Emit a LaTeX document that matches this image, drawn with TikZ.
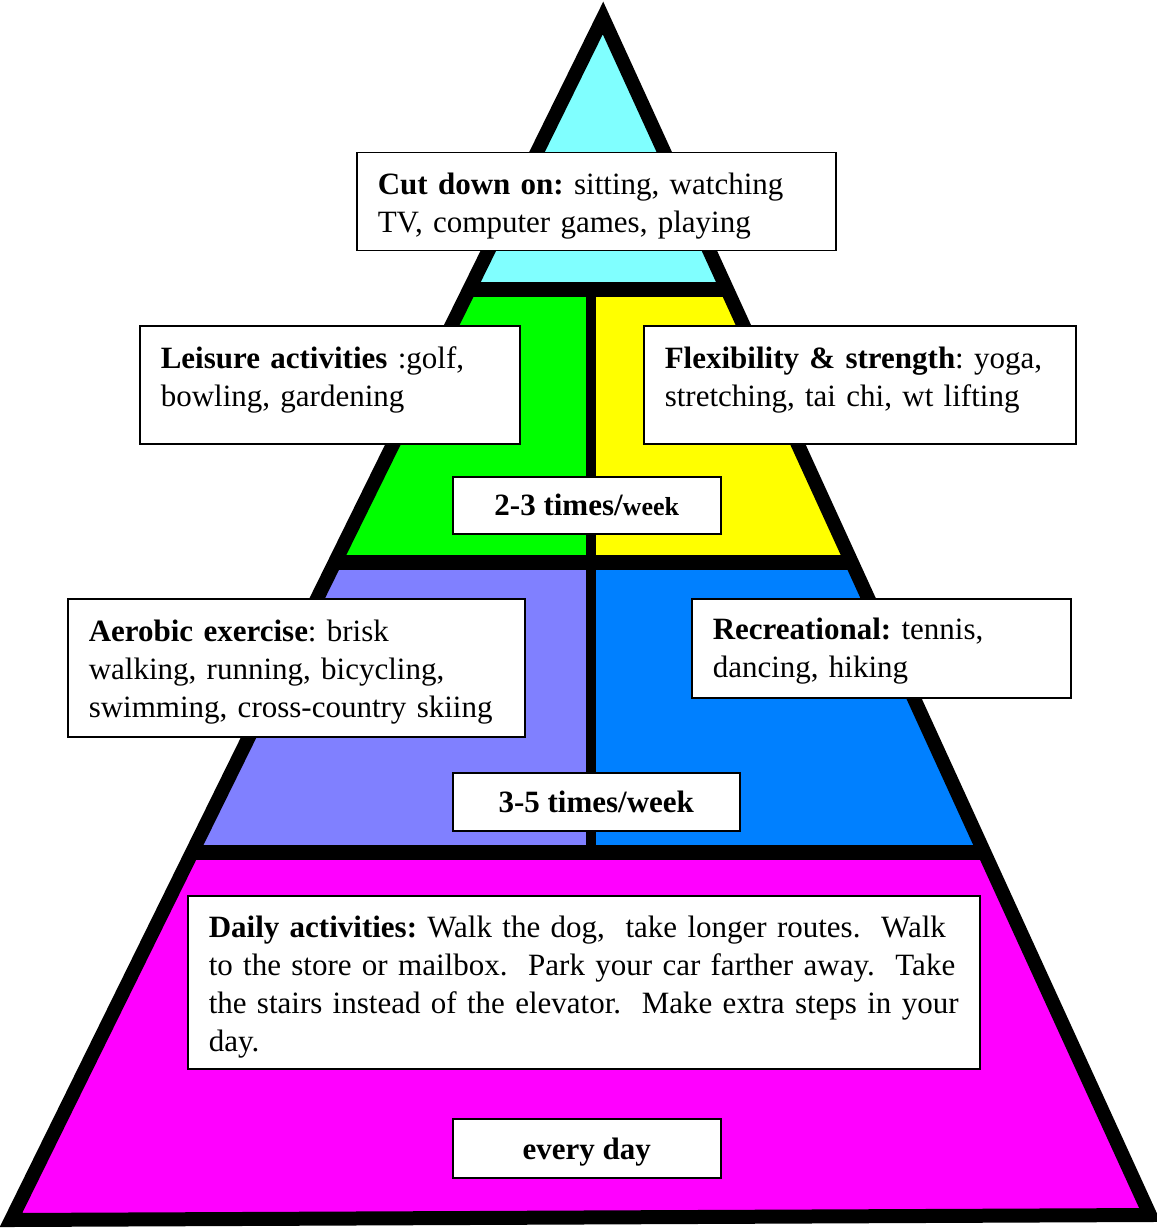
\documentclass[tikz,border=0pt]{standalone}
\usepackage{fontspec}
\setmainfont{Liberation Serif}
\frenchspacing
\definecolor{cyanband}{RGB}{128,255,255}
\definecolor{greenband}{RGB}{0,255,0}
\definecolor{yellowband}{RGB}{255,255,0}
\definecolor{purpleband}{RGB}{128,128,255}
\definecolor{blueband}{RGB}{0,128,255}
\definecolor{magentaband}{RGB}{255,0,255}
\tikzset{
  txtbox/.style={draw=black, line width=1.5pt, fill=white, anchor=north west,
    inner xsep=21pt, inner ysep=0pt, align=left,
    font=\fontsize{31}{38}\selectfont},
  freqbox/.style={draw=black, line width=1.5pt, fill=white, anchor=north west,
    inner sep=0pt, align=center, font=\fontsize{31}{38}\selectfont\bfseries},
  divider/.style={line width=15pt, black},
  outline/.style={line width=14pt, black, line join=miter, miter limit=10},
}
\begin{document}
\begin{tikzpicture}[x=1pt,y=-1pt]
\useasboundingbox (0,0) rectangle (1156,1230);
\coordinate (apex) at (603,18);
\coordinate (bl) at (11,1220);
\coordinate (br) at (1150,1215);
\begin{scope}
  \clip (apex) -- (bl) -- (br) -- cycle;
  \fill[cyanband] (0,0) rectangle (1156,289);
  \fill[greenband] (0,289) rectangle (591,562);
  \fill[yellowband] (591,289) rectangle (1156,562);
  \fill[purpleband] (0,562) rectangle (591,852);
  \fill[blueband] (591,562) rectangle (1156,852);
  \fill[magentaband] (0,852) rectangle (1156,1230);
  \draw[divider] (0,289.5) -- (1156,289.5);
  \draw[divider] (0,562.5) -- (1156,562.5);
  \draw[divider] (0,852) -- (1156,852);
  \draw[line width=10pt, black] (591,289) -- (591,852);
\end{scope}
\draw[outline] (apex) -- (bl) -- (br) -- cycle;

\node[txtbox, text width=437pt, minimum height=98pt] (cut) at (356,152)
  {\mbox{\textbf{Cut down on:} sitting, watching}\\\mbox{TV, computer games, playing}\par\kern-8pt};
\node[txtbox, text width=338pt, minimum height=118pt] (leisure) at (139,325)
  {\mbox{\textbf{Leisure activities} :golf,}\\\mbox{bowling, gardening}\par\kern10pt};
\node[txtbox, text width=390pt, minimum height=118pt] (flex) at (643,325)
  {\mbox{\textbf{Flexibility \& strength}: yoga,}\\\mbox{stretching, tai chi, wt lifting}\par\kern10pt};
\node[freqbox, minimum width=268pt, minimum height=57pt] (f23) at (452,476)
  {2-3 times/{\fontsize{26}{30}\selectfont week}};
\node[txtbox, text width=415pt, minimum height=138pt] (aerobic) at (67,598)
  {\mbox{\textbf{Aerobic exercise}: brisk}\\\mbox{walking, running, bicycling,}\\\mbox{swimming, cross-country skiing}\par\kern-8pt};
\node[txtbox, text width=337pt, minimum height=99pt] (recre) at (691,598)
  {\mbox{\textbf{Recreational:} tennis,}\\\mbox{dancing, hiking}\par\kern-6pt};
\node[freqbox, minimum width=287pt, minimum height=58pt] (f35) at (452,772)
  {3-5 times/week};
\node[txtbox, text width=750pt, minimum height=173pt] (daily) at (187,895)
  {\mbox{\textbf{Daily activities:} Walk the dog,\ \ take longer routes.\ \ Walk}\\
   \mbox{to the store or mailbox.\ \ Park your car farther away.\ \ Take}\\
   \mbox{the stairs instead of the elevator.\ \ Make extra steps in your}\\
   \mbox{day.}\par\kern-10pt};
\node[freqbox, minimum width=268pt, minimum height=59pt] (every) at (452,1118)
  {\raisebox{-4pt}[\height][\depth]{every day}};
\end{tikzpicture}
\end{document}
